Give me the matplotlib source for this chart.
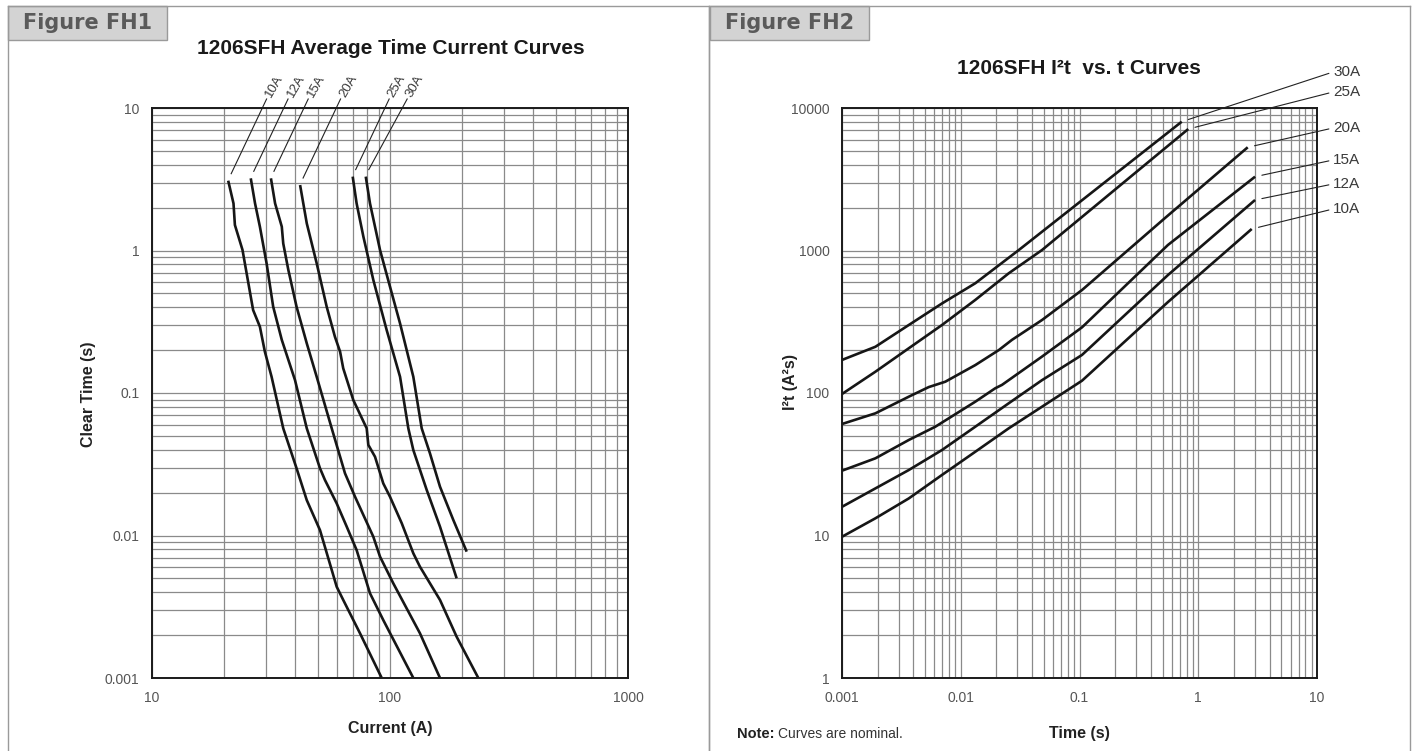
import numpy as np
import matplotlib.pyplot as plt
from matplotlib.ticker import LogLocator, FixedLocator, FixedFormatter, NullFormatter
from matplotlib.patches import Rectangle
from matplotlib.lines import Line2D

plt.rcParams['font.family'] = ['Liberation Sans', 'DejaVu Sans']

W, H = 1418, 751

ratings = ['10A', '12A', '15A', '20A', '25A', '30A']

# Figure FH1: clear time (s) vs current (A)
fh1_amps = {
    '10A': [20.9, 22.0, 22.3, 24.0, 26.6, 28.4, 29.8, 31.8, 35.6, 40.5, 44.7, 50.8, 59.7, 63.6, 74.8, 92.3],
    '12A': [26.0, 27.1, 28.4, 30.3, 32.3, 35.1, 39.9, 44.7, 50.8, 53.3, 59.7, 65.8, 72.4, 82.4, 93.7, 125.3],
    '15A': [31.6, 32.9, 35.1, 35.6, 37.4, 40.5, 44.7, 49.2, 56.9, 64.7, 71.3, 85.1, 90.8, 103.2, 133.6, 162.2],
    '20A': [41.9, 44.7, 49.2, 54.2, 58.7, 61.7, 63.6, 70.1, 79.8, 81.1, 86.5, 93.7, 100, 112, 125.3, 133.6, 162.2, 190.5, 235],
    '25A': [69.7, 72.4, 77.3, 85.1, 96.8, 110.2, 119.4, 125.3, 142.6, 162.2, 190.5],
    '30A': [79.1, 82.4, 90.8, 100, 110.2, 125.3, 135.9, 147.2, 162.2, 184.5, 210],
}
fh1_secs = {
    '10A': [3.09, 2.14, 1.51, 1.01, 0.382, 0.292, 0.195, 0.130, 0.0565, 0.0296, 0.0177, 0.0109, 0.00437, 0.00353, 0.00206, 0.001],
    '12A': [3.21, 2.14, 1.47, 0.813, 0.403, 0.236, 0.123, 0.0565, 0.0296, 0.0245, 0.0168, 0.01153, 0.0079, 0.00393, 0.00255, 0.001],
    '15A': [3.21, 2.14, 1.47, 1.12, 0.730, 0.403, 0.223, 0.130, 0.0565, 0.0273, 0.0187, 0.0098, 0.0071, 0.00462, 0.00206, 0.001],
    '20A': [2.88, 1.55, 0.813, 0.403, 0.248, 0.195, 0.149, 0.0893, 0.0565, 0.0432, 0.0357, 0.0232, 0.0187, 0.0122, 0.0075, 0.00604, 0.00353, 0.00195, 0.001],
    '25A': [3.30, 2.14, 1.25, 0.621, 0.277, 0.130, 0.0565, 0.0398, 0.0209, 0.01153, 0.00501],
    '30A': [3.30, 2.14, 1.008, 0.557, 0.308, 0.130, 0.0565, 0.0377, 0.0220, 0.01285, 0.0077],
}

# Figure FH2: I2t (A2s) vs time (s)
fh2_time = {
    '10A': [0.001, 0.00191, 0.00365, 0.00695, 0.01326, 0.02535, 0.0483, 0.105, 0.556, 2.82],
    '12A': [0.001, 0.00191, 0.00365, 0.00695, 0.01326, 0.02535, 0.0483, 0.105, 0.556, 3.01],
    '15A': [0.001, 0.00191, 0.00365, 0.00503, 0.00611, 0.01326, 0.01954, 0.02225, 0.0483, 0.105, 0.556, 3.01],
    '20A': [0.001, 0.00191, 0.00365, 0.00537, 0.00741, 0.01326, 0.0209, 0.0270, 0.0483, 0.105, 0.525, 2.61],
    '25A': [0.001, 0.00191, 0.00365, 0.00695, 0.01326, 0.02535, 0.0483, 0.149, 0.824],
    '30A': [0.001, 0.00191, 0.00365, 0.00695, 0.01326, 0.0308, 0.149, 0.726],
}
fh2_i2t = {
    '10A': [9.8, 13.2, 18.2, 26.6, 38.7, 56.5, 80.1, 122, 435, 1416],
    '12A': [15.9, 21.4, 28.8, 39.8, 58, 84.7, 123, 185, 673, 2262],
    '15A': [28.5, 34.8, 46.8, 53.5, 58, 86.9, 108, 114, 180, 289, 1094, 3296],
    '20A': [60.6, 72, 94.2, 110, 120, 157, 200, 236, 325, 528, 1690, 5300],
    '25A': [98.4, 141, 206, 300, 450, 692, 1007, 2190, 7120],
    '30A': [170.6, 211, 300, 425, 589, 1007, 2835, 8016],
}
fh2_label_y = [209, 184, 160, 128, 92, 72]   # pixel rows of the right-hand labels

fh1_xticks = [10, 100, 1000]
fh1_yticks = [0.001, 0.01, 0.1, 1, 10]
fh2_xticks = [0.001, 0.01, 0.1, 1, 10]
fh2_yticks = [1, 10, 100, 1000, 10000]

TICK_C = '#555555'
GRID_C = '#8a8a8a'
FRAME_C = '#9a9a9a'


def fx(px):
    return px / W


def fy(py):
    return 1 - py / H


def style_axis(ax, xt, yt, xlim, ylim):
    ax.set_xscale('log')
    ax.set_yscale('log')
    ax.set_xlim(*xlim)
    ax.set_ylim(*ylim)
    ax.xaxis.set_major_locator(FixedLocator(xt))
    ax.xaxis.set_major_formatter(FixedFormatter([('%g' % v) for v in xt]))
    ax.yaxis.set_major_locator(FixedLocator(yt))
    ax.yaxis.set_major_formatter(FixedFormatter([('%g' % v) for v in yt]))
    ax.xaxis.set_minor_locator(LogLocator(base=10, subs=np.arange(2, 10), numticks=20))
    ax.yaxis.set_minor_locator(LogLocator(base=10, subs=np.arange(2, 10), numticks=20))
    ax.xaxis.set_minor_formatter(NullFormatter())
    ax.yaxis.set_minor_formatter(NullFormatter())
    ax.tick_params(which='both', length=0, labelsize=10, labelcolor=TICK_C, pad=9)
    ax.grid(True, which='both', color=GRID_C, lw=0.9)
    ax.set_axisbelow(True)
    for s in ax.spines.values():
        s.set_linewidth(1.4)
        s.set_color('#1a1a1a')


def place_labels(ax, xl, yl, xpos, ypos):
    ax.set_xlabel(xl, fontsize=11.5, weight='bold', color='#222222')
    ax.set_ylabel(yl, fontsize=11.5, weight='bold', color='#222222')
    ax.xaxis.set_label_coords(*xpos)
    ax.yaxis.set_label_coords(*ypos)
    for lab in (ax.xaxis.label, ax.yaxis.label):
        lab.set_va('center')
        lab.set_ha('center')


fig = plt.figure(figsize=(W / 100, H / 100), dpi=100)

# panel frames and tabs
for xa, xb in [(8, 709), (709, 1410)]:
    fig.add_artist(Line2D([fx(xa), fx(xa)], [fy(6), 0], color=FRAME_C, lw=1.0))
    fig.add_artist(Line2D([fx(xb), fx(xb)], [fy(6), 0], color=FRAME_C, lw=1.0))
fig.add_artist(Line2D([fx(8), fx(1410)], [fy(6), fy(6)], color=FRAME_C, lw=1.0))
for x0, txt in [(8, 'Figure FH1'), (710, 'Figure FH2')]:
    fig.add_artist(Rectangle((fx(x0), fy(40)), fx(159), 34 / H, transform=fig.transFigure,
                             facecolor='#d3d3d3', edgecolor=FRAME_C, lw=1.0))
    fig.text(fx(x0 + 80), fy(23), txt, family='DejaVu Sans', weight='bold', fontsize=15,
             color='#5a5a5a', ha='center', va='center')

# ---- FH1
ax1 = fig.add_axes([fx(152), fy(678), fx(628) - fx(152), fy(108) - fy(678)])
style_axis(ax1, fh1_xticks, fh1_yticks, (10, 1000), (0.001, 10))
for r in ratings:
    ax1.plot(fh1_amps[r], fh1_secs[r], color='#161616', lw=1.9, solid_capstyle='butt')
place_labels(ax1, 'Current (A)', 'Clear Time (s)', (0.5, -0.088), (-0.134, 0.497))
fig.text(fx(391), fy(48), '1206SFH Average Time Current Curves', fontsize=15,
         weight='bold', color='#1a1a1a', ha='center', va='center')

# rotated labels with leader lines above the curves
inv1 = ax1.transData.inverted()
top_px = H - 99
last_end = -1e9
for r in ratings:
    x0, y0 = ax1.transData.transform((fh1_amps[r][0], fh1_secs[r][0]))
    sx, sy = x0 + 3, y0 + 7
    ex = max(x0 + 0.47 * (top_px - y0), last_end + 18)
    ey = top_px
    last_end = ex
    (a0, b0), (a1, b1) = inv1.transform([(sx, sy), (ex, ey)])
    ax1.plot([a0, a1], [b0, b1], color='#222222', lw=0.8, clip_on=False)
    lx, ly = inv1.transform((ex + 2, ey + 3))
    ax1.text(lx, ly, r, rotation=60, rotation_mode='anchor', ha='left', va='center',
             fontsize=9.5, color='#3a3a3a', clip_on=False)

# ---- FH2
ax2 = fig.add_axes([fx(842), fy(678), fx(1317) - fx(842), fy(108) - fy(678)])
style_axis(ax2, fh2_xticks, fh2_yticks, (0.001, 10), (1, 10000))
for r in ratings:
    ax2.plot(fh2_time[r], fh2_i2t[r], color='#161616', lw=1.9, solid_capstyle='butt')
place_labels(ax2, 'Time (s)', 'I²t (A²s)', (0.5, -0.098), (-0.109, 0.52))
fig.text(fx(1079), fy(69), '1206SFH I²t  vs. t Curves', fontsize=15,
         weight='bold', color='#1a1a1a', ha='center', va='center')

for r, ly in zip(ratings, fh2_label_y):
    ax2.annotate(r, xy=(fh2_time[r][-1], fh2_i2t[r][-1]), xycoords='data',
                 xytext=(1333, H - ly), textcoords='figure pixels',
                 ha='left', va='center', fontsize=11, color='#3a3a3a',
                 arrowprops=dict(arrowstyle='-', color='#222222', lw=0.8,
                                 shrinkA=1, shrinkB=5, relpos=(0, 0.5)))

fig.text(fx(737), fy(734), 'Note:', fontsize=10.5, weight='bold', color='#222222',
         ha='left', va='center')
fig.text(fx(778), fy(734), 'Curves are nominal.', fontsize=10, color='#333333',
         ha='left', va='center')

plt.savefig('out.png', dpi=100)
plt.close()
